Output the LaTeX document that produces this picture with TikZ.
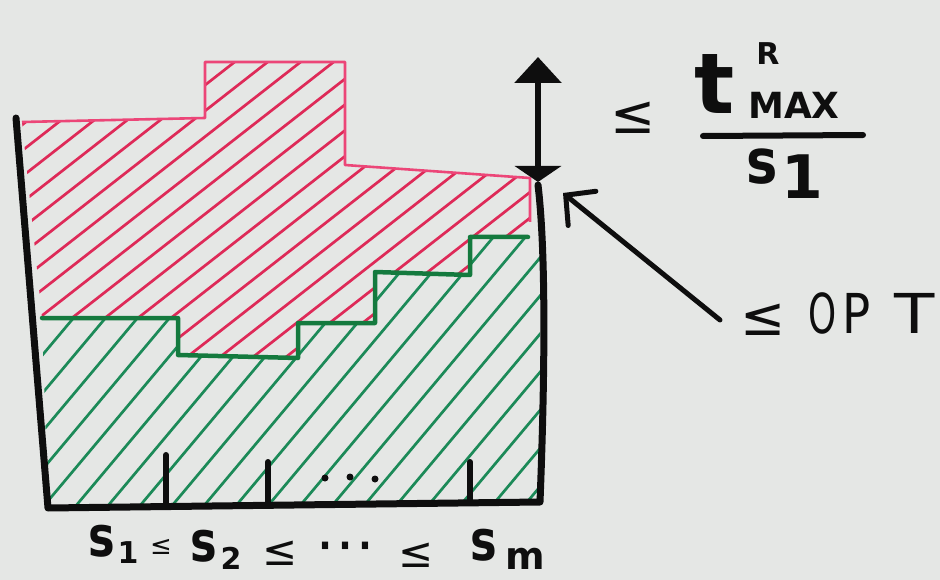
\documentclass[tikz,border=0pt]{standalone}
\usepackage{fontspec}
\setmainfont{DejaVu Sans}
\usetikzlibrary{arrows.meta}
\definecolor{bg}{RGB}{229,231,229}
\definecolor{hred}{RGB}{222,42,88}
\definecolor{ored}{RGB}{236,70,120}
\definecolor{hgreen}{RGB}{28,138,88}
\definecolor{sgreen}{RGB}{20,122,62}
\definecolor{ink}{RGB}{14,14,14}
\newcommand{\fs}[1]{\fontsize{#1}{#1}\selectfont}
\begin{document}
\begin{tikzpicture}[x=1pt,y=-1pt,
  wall/.style={ink,line width=7pt,line cap=round,line join=round},
  tickmark/.style={ink,line width=6pt,line cap=round},
  redhatch/.style={hred,line width=2.7pt,line cap=round},
  greenhatch/.style={hgreen,line width=2.7pt,line cap=round},
  redline/.style={ored,line width=2.6pt,line join=round},
  stair/.style={sgreen,line width=4.5pt,line join=round,line cap=round},
  lbl/.style={inner sep=0pt,outer sep=0pt,text=ink},
  hw/.style={lbl,font=\bfseries\fs{#1}},
  hn/.style={lbl,font=\fs{#1}}]
\useasboundingbox (0,0) rectangle (940,580);
\fill[bg] (0,0) rectangle (940,580);

% red hatched region
\begin{scope}
\clip (22,122) -- (205,118) -- (205,62) -- (345,62) -- (345,165) -- (530,178)
  -- (530,237) -- (470,237) -- (470,275) -- (375,272) -- (375,323) -- (298,323)
  -- (298,358) -- (178,355) -- (178,318) -- (42,318) -- cycle;
\foreach \i in {-14,...,17}
  \draw[redhatch] ({\i*33},400) -- ++(700,{-700*tan(38)});
\end{scope}
\draw[redline] (22,122) -- (205,118) -- (205,62) -- (345,62) -- (345,165) -- (530,178) -- (530,222);

% green hatched region
\begin{scope}
\clip (42,318) -- (178,318) -- (178,355) -- (298,358) -- (298,323) -- (375,323)
  -- (375,272) -- (470,275) -- (470,237) -- (540,237) -- (540,502) -- (48,508) -- cycle;
\foreach \i in {-9,...,18}
  \draw[greenhatch] ({\i*32},520) -- ++(500,{-500*tan(50)});
\end{scope}
\draw[stair] (42,318) -- (178,318) -- (178,355) -- (298,358) -- (298,323) -- (375,323)
  -- (375,272) -- (470,275) -- (470,237) -- (528,237);

% machine box
\draw[wall] (16,118) -- (48,508) -- (540,502) .. controls (544,400) and (547,260) .. (538,185);
\draw[tickmark] (166,455) -- (166,505);
\draw[tickmark] (268,462) -- (268,505);
\draw[tickmark] (470,462) -- (470,502);
\fill[ink] (325,478) circle (3.5) (350,477) circle (3.5) (375,479) circle (3.5);

% double arrow
\coordinate (atop) at (538,57);
\coordinate (corner) at (538,182);
\draw[ink,line width=6pt,{Triangle[width=46pt,length=26pt]}-{Triangle[width=46pt,length=16pt]}] (atop) -- (corner);

% fraction label
\node[hn=54] (le1) at (633,118) {≤};
\node[hw=84] (tnum) at (715,84) {t};
\node[hw=30] (rsup) at (768,54) {R};
\node[hw=36] (max) at (794,105) {MAX};
\coordinate (barl) at (703,136);
\coordinate (barr) at (863,135);
\draw[ink,line width=6pt,line cap=round] (barl) -- (barr);
\node[hw=62,xscale=0.85] (sden) at (762,167) {s};
\node[hw=60] (oneden) at (802,177) {1};

% OPT label and arrow
\node[hn=54] (le2) at (763,320) {≤};
\node[hn=55,xscale=0.65] (optO) at (823,313) {O};
\node[hn=55,xscale=0.85] (optP) at (857,313) {P};
\node[hn=55,xscale=1.2] (optT) at (915,313) {T};
\coordinate (tail) at (720,320);
\coordinate (tip) at (563,193);
\draw[ink,line width=5pt,line cap=round,-{Straight Barb[length=21pt,width=44pt,line cap=round]}] (tail) -- (tip);

% bottom label
\node[hw=56,xscale=0.8] (s1) at (102,541) {s};
\node[hw=30] (s1i) at (128,553) {1};
\node[hn=26] (le3) at (161,547) {≤};
\node[hw=56,xscale=0.8] (s2) at (204,546) {s};
\node[hw=30] (s2i) at (231,558) {2};
\node[hn=42] (le4) at (280,553) {≤};
\node[hn=60] (dots) at (345,553) {⋯};
\node[hn=42] (le5) at (416,555) {≤};
\node[hw=56,xscale=0.8] (sm) at (484,545) {s};
\node[hw=38] (smi) at (525,559) {m};
\end{tikzpicture}
\end{document}
